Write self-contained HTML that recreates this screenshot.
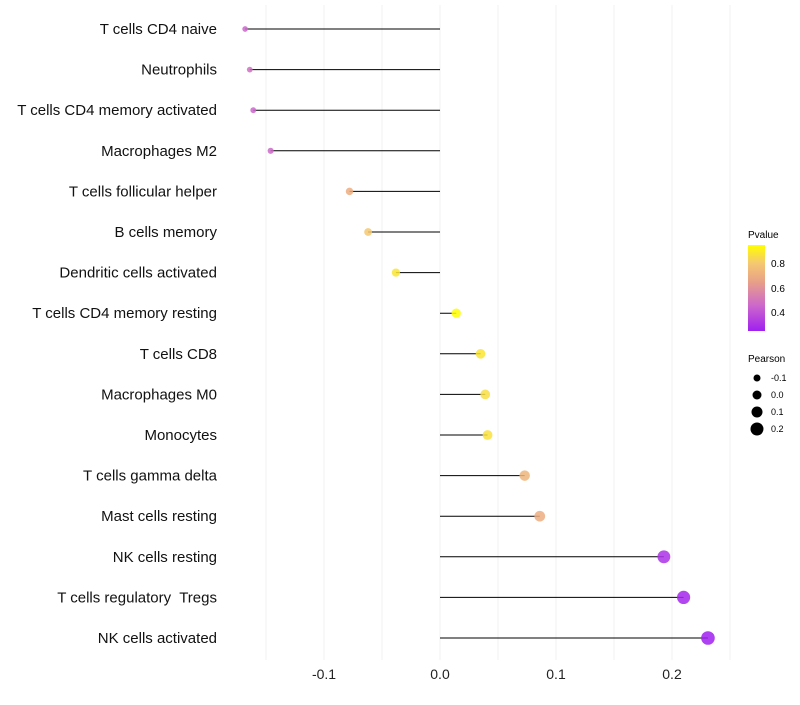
<!DOCTYPE html>
<html><head><meta charset="utf-8"><style>
body{margin:0;background:#fff;font-family:"Liberation Sans",sans-serif;}
text{white-space:pre;}
</style></head><body>
<svg id="chart" width="800" height="700" xmlns="http://www.w3.org/2000/svg">
<defs><linearGradient id="pg" x1="0" y1="1" x2="0" y2="0">
<stop offset="0" stop-color="#A020F0"/><stop offset="0.29" stop-color="#CC66CC"/><stop offset="0.57" stop-color="#E8A088"/><stop offset="0.79" stop-color="#F5C870"/><stop offset="1" stop-color="#FFFF00"/>
</linearGradient></defs>
<g id="grid"></g>
<g id="marks"></g>
<g id="labels"></g>
<g font-size="10">
<text x="748" y="238" font-size="10">Pvalue</text>
<rect x="748" y="245" width="17" height="86" fill="url(#pg)"/>
<text x="771" y="267">0.8</text><text x="771" y="292">0.6</text><text x="771" y="316">0.4</text>
</g>
<g font-size="9">
<text x="748" y="362" font-size="10">Pearson</text>
<circle cx="757" cy="378" r="3.5"/><text x="771" y="381">-0.1</text>
<circle cx="757" cy="395" r="4.5"/><text x="771" y="398">0.0</text>
<circle cx="757" cy="412" r="5.5"/><text x="771" y="415">0.1</text>
<circle cx="757" cy="429" r="6.5"/><text x="771" y="432">0.2</text>
</g>
</svg>
<script>
const categories=["T cells CD4 naive","Neutrophils","T cells CD4 memory activated","Macrophages M2","T cells follicular helper","B cells memory","Dendritic cells activated","T cells CD4 memory resting","T cells CD8","Macrophages M0","Monocytes","T cells gamma delta","Mast cells resting","NK cells resting","T cells regulatory  Tregs","NK cells activated"];
const pearson=[-0.168,-0.164,-0.161,-0.146,-0.078,-0.062,-0.038,0.014,0.035,0.039,0.041,0.073,0.086,0.193,0.210,0.231];
const pvalue=[0.45,0.48,0.45,0.46,0.70,0.80,0.88,0.95,0.88,0.86,0.87,0.73,0.70,0.30,0.27,0.25];
const xticks=[-0.1,0.0,0.1,0.2];
const xtickLabels=["-0.1","0.0","0.1","0.2"];
const NS="http://www.w3.org/2000/svg";
const x=v=>440+v*1160;
const y=i=>29+i*40.6;
const r=v=>4.5+10*v;
const stops=[[0.25,[160,32,240]],[0.45,[204,102,204]],[0.65,[232,160,136]],[0.8,[245,200,112]],[0.95,[255,255,0]]];
function col(p){p=Math.max(0.25,Math.min(0.95,p));for(let k=0;k<stops.length-1;k++){const[a,ca]=stops[k],[b,cb]=stops[k+1];if(p<=b){const t=(p-a)/(b-a);return"rgb("+ca.map((c,j)=>Math.round(c+(cb[j]-c)*t)).join(",")+")";}}return"rgb(255,255,0)";}
function mk(t,at,parent){const e=document.createElementNS(NS,t);for(const k in at)e.setAttribute(k,at[k]);parent.appendChild(e);return e;}
const grid=document.getElementById('grid'),marks=document.getElementById('marks'),labels=document.getElementById('labels');
for(let v=-0.15;v<=0.26;v+=0.05){const g=mk('line',{x1:x(v),x2:x(v),y1:5,y2:660,stroke:'#f0f0f0','stroke-width':1},grid);

}
xticks.forEach((v,i)=>{const t=mk('text',{x:x(v),y:679,'text-anchor':'middle','font-size':14,fill:'#222'},labels);t.textContent=xtickLabels[i];

});
categories.forEach((c,i)=>{
const l=mk('line',{x1:x(0),x2:x(pearson[i]),y1:y(i),y2:y(i),stroke:'#000','stroke-width':1},marks);


const d=mk('circle',{cx:x(pearson[i]),cy:y(i),r:r(pearson[i]),fill:col(pvalue[i]),'fill-opacity':0.85},marks);


const t=mk('text',{x:217,y:y(i)+5,'text-anchor':'end','font-size':15,fill:'#111'},labels);t.textContent=c;


});
</script>
</body></html>
